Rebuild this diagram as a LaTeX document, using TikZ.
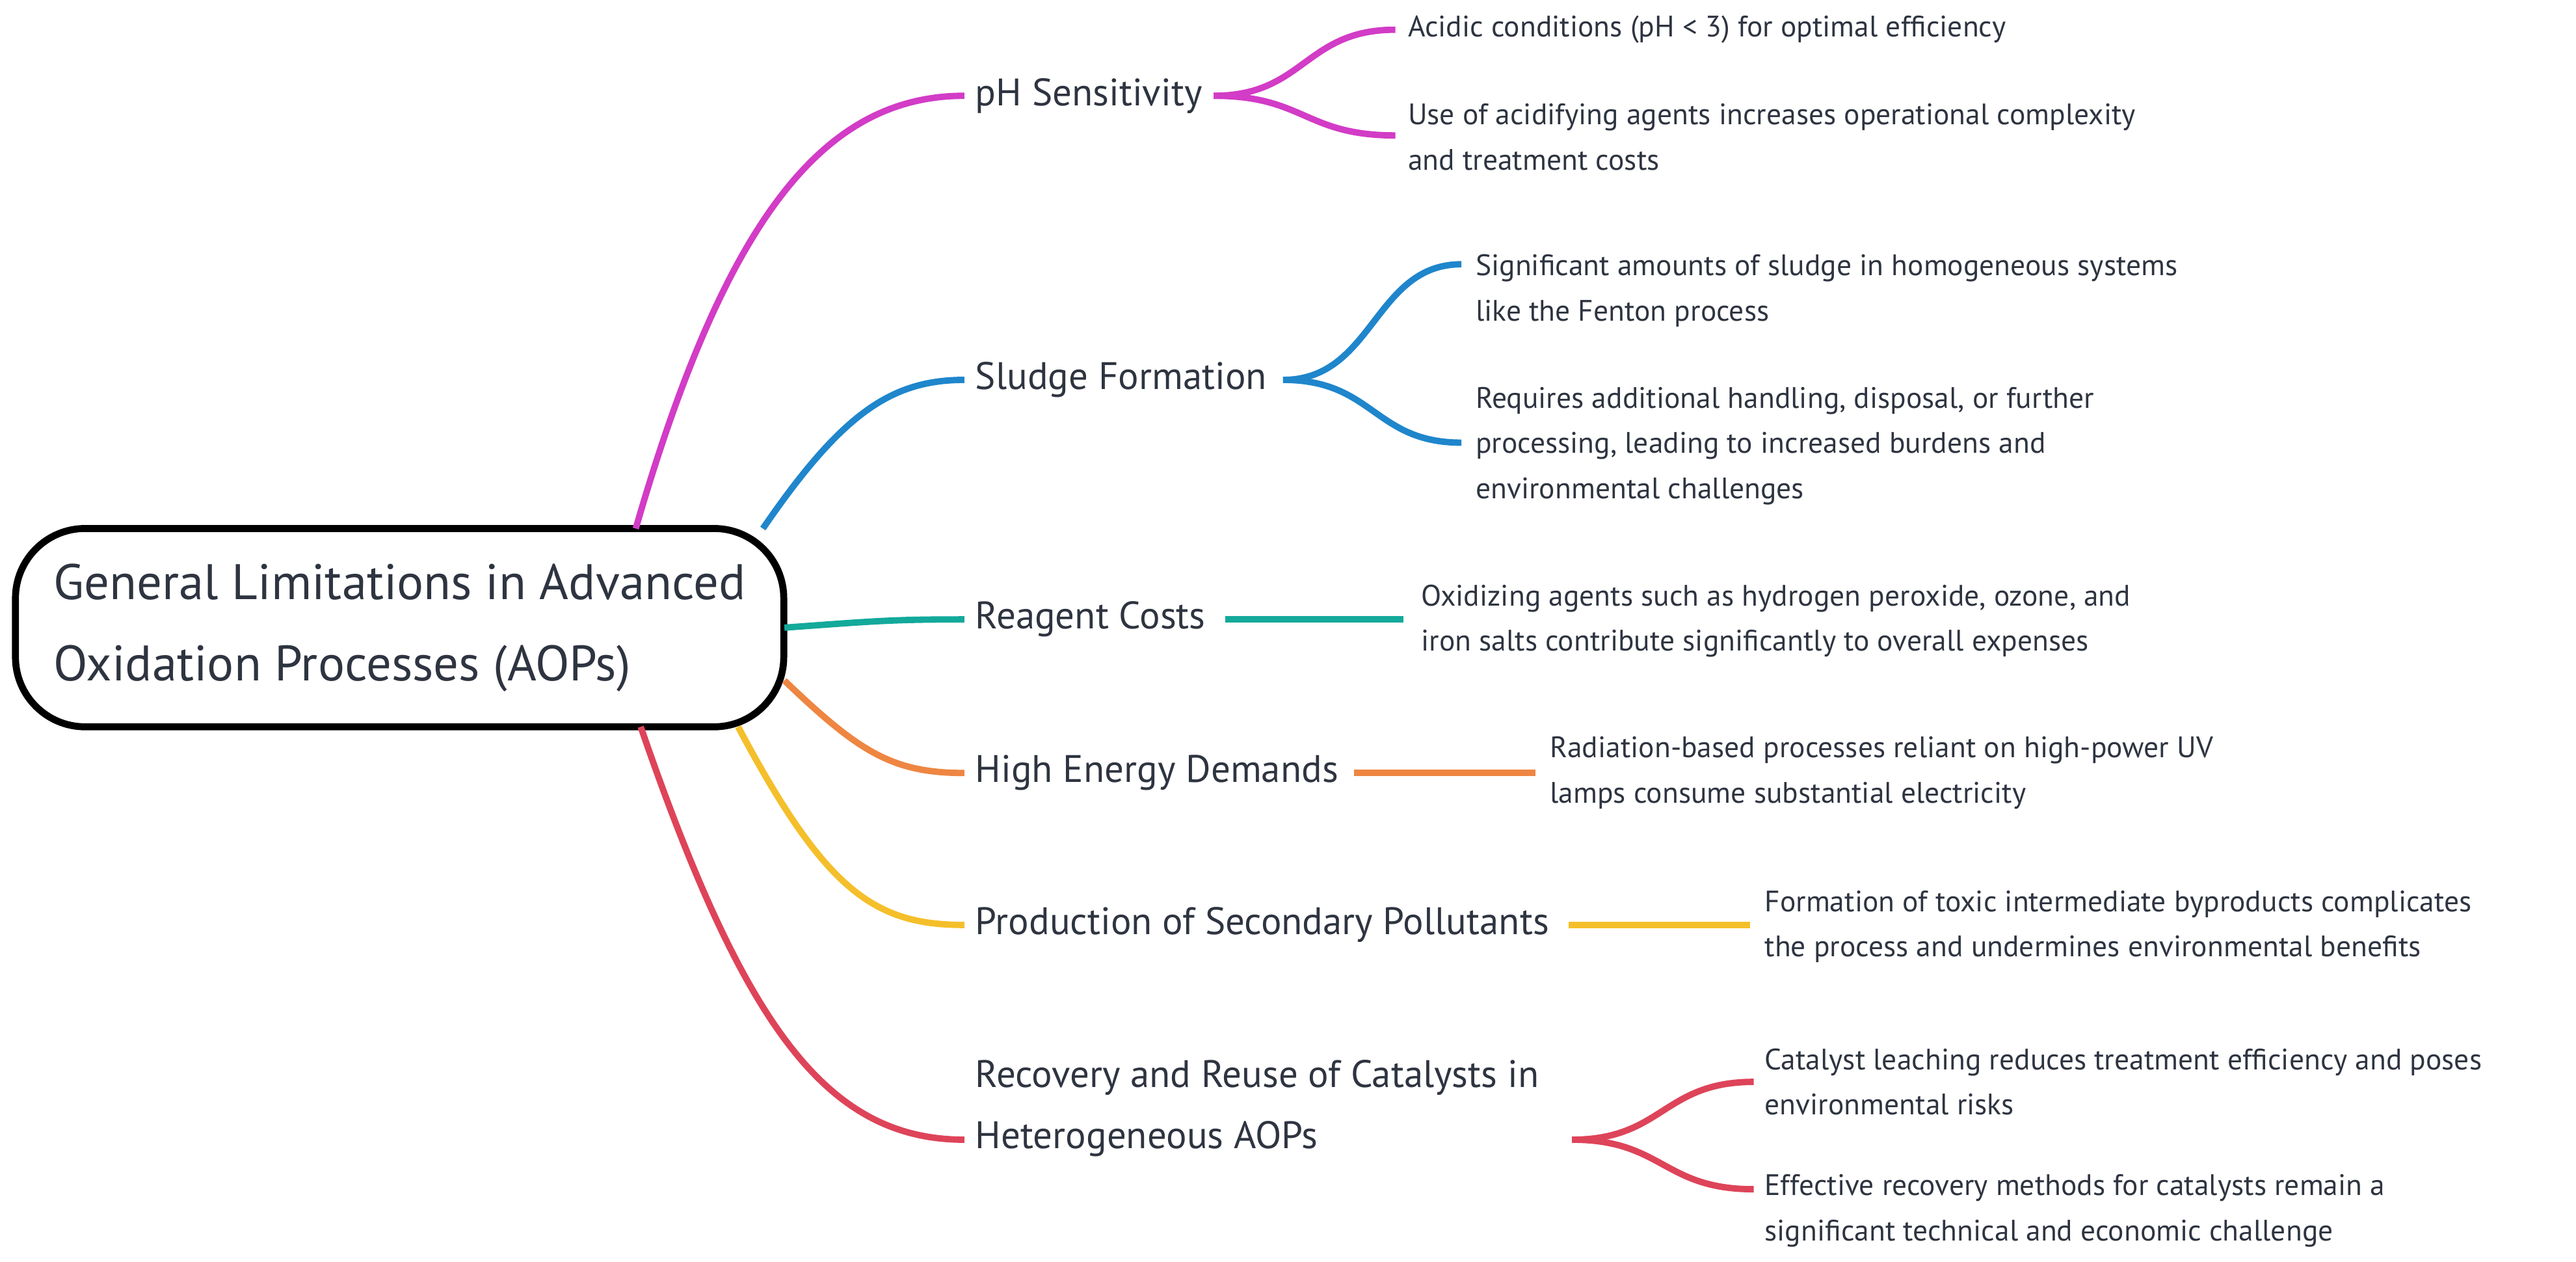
\documentclass[tikz,border=0pt]{standalone}
\usepackage{fontspec}
\setmainfont{PT Sans}
\usetikzlibrary{positioning}
\definecolor{cMag}{HTML}{D23CC6}
\definecolor{cBlue}{HTML}{1F86CC}
\definecolor{cTeal}{HTML}{13A99B}
\definecolor{cOrange}{HTML}{EE8642}
\definecolor{cYellow}{HTML}{F4BF2A}
\definecolor{cRed}{HTML}{DE4459}
\definecolor{cText}{HTML}{2E3440}
\tikzset{
	root/.style   = {draw, very thick, rounded corners=12pt, text=cText,
		minimum width=4.65cm, minimum height=1.2cm, align=left,
		font=\fontsize{8.6}{14}\selectfont},
	branch/.style = {anchor=west, inner sep=0pt, text=cText, align=left,
		font=\fontsize{6.6}{10.6}\selectfont},
	leaf/.style   = {anchor=west, inner sep=0pt, text=cText, align=left,
		font=\fontsize{5.1}{7.8}\selectfont},
	link/.style   = {line width=1.1pt},
}
\begin{document}
\begin{tikzpicture}[x=0.01cm, y=-0.01cm]
    \useasboundingbox (0,0) rectangle (1560,764);

    %-- Root and branches --%
    \node[root] (aops) at (242,380) {General Limitations in Advanced\\Oxidation Processes (AOPs)};

    \node[branch] (ph)       at (590,58)  {pH Sensitivity};
    \node[branch] (sludge)   at (590,230) {Sludge Formation};
    \node[branch] (reagent)  at (590,375) {Reagent Costs};
    \node[branch] (energy)   at (590,468) {High Energy Demands};
    \node[branch] (pollut)   at (590,560) {Production of Secondary Pollutants};
    \node[branch] (recovery) at (590,671) {Recovery and Reuse of Catalysts in\\Heterogeneous AOPs};

    %-- Leaves --%
    \node[leaf] (phA)  at (852,18)  {Acidic conditions (pH < 3) for optimal efficiency};
    \node[leaf] (phB)  at (852,83)  {Use of acidifying agents increases operational complexity\\and treatment costs};
    \node[leaf] (slA)  at (893,176) {Significant amounts of sludge in homogeneous systems\\like the Fenton process};
    \node[leaf] (slB)  at (893,270) {Requires additional handling, disposal, or further\\processing, leading to increased burdens and\\environmental challenges};
    \node[leaf] (reA)  at (860,376) {Oxidizing agents such as hydrogen peroxide, ozone, and\\iron salts contribute significantly to overall expenses};
    \node[leaf] (enA)  at (938,468) {Radiation-based processes reliant on high-power UV\\lamps consume substantial electricity};
    \node[leaf] (poA)  at (1068,561) {Formation of toxic intermediate byproducts complicates\\the process and undermines environmental benefits};
    \node[leaf] (rcA)  at (1068,655) {Catalyst leaching reduces treatment efficiency and poses\\environmental risks};
    \node[leaf] (rcB)  at (1068,733) {Effective recovery methods for catalysts remain a\\significant technical and economic challenge};

    %-- Anchor points --%
    \coordinate (phS) at (385,320);  \coordinate (phE) at (584,58);
    \coordinate (slS) at (462,320);  \coordinate (slE) at (584,230);
    \coordinate (reS) at (475,380);  \coordinate (reE) at (584,375);
    \coordinate (enS) at (475,412);  \coordinate (enE) at (584,468);
    \coordinate (poS) at (447,440);  \coordinate (poE) at (584,560);
    \coordinate (rcS) at (388,440);  \coordinate (rcE) at (584,690);

    \coordinate (phF) at (735,58);   \coordinate (phF1) at (845,18);  \coordinate (phF2) at (845,82);
    \coordinate (slF) at (777,230);  \coordinate (slF1) at (885,160); \coordinate (slF2) at (885,268);
    \coordinate (reF) at (742,375);  \coordinate (reF1) at (850,375);
    \coordinate (enF) at (820,468);  \coordinate (enF1) at (930,468);
    \coordinate (poF) at (950,560);  \coordinate (poF1) at (1060,560);
    \coordinate (rcF) at (952,690);  \coordinate (rcF1) at (1062,655); \coordinate (rcF2) at (1062,720);

    %-- Root links --%
    \draw[link, cMag]    (phS) .. controls (440,130) and (500,58) .. (phE);
    \draw[link, cBlue]   (slS) .. controls (510,250) and (540,230) .. (slE);
    \draw[link, cTeal]   (reS) .. controls (530,376) and (540,375) .. (reE);
    \draw[link, cOrange] (enS) .. controls (520,455) and (540,468) .. (enE);
    \draw[link, cYellow] (poS) .. controls (500,540) and (530,560) .. (poE);
    \draw[link, cRed]    (rcS) .. controls (450,620) and (500,690) .. (rcE);

    %-- Leaf links --%
    \draw[link, cMag]    (phF) .. controls (790,58) and (790,18) .. (phF1);
    \draw[link, cMag]    (phF) .. controls (790,58) and (790,82) .. (phF2);
    \draw[link, cBlue]   (slF) .. controls (832,230) and (832,160) .. (slF1);
    \draw[link, cBlue]   (slF) .. controls (832,230) and (832,268) .. (slF2);
    \draw[link, cTeal]   (reF) -- (reF1);
    \draw[link, cOrange] (enF) -- (enF1);
    \draw[link, cYellow] (poF) -- (poF1);
    \draw[link, cRed]    (rcF) .. controls (1007,690) and (1007,655) .. (rcF1);
    \draw[link, cRed]    (rcF) .. controls (1007,690) and (1007,720) .. (rcF2);
\end{tikzpicture}
\end{document}
